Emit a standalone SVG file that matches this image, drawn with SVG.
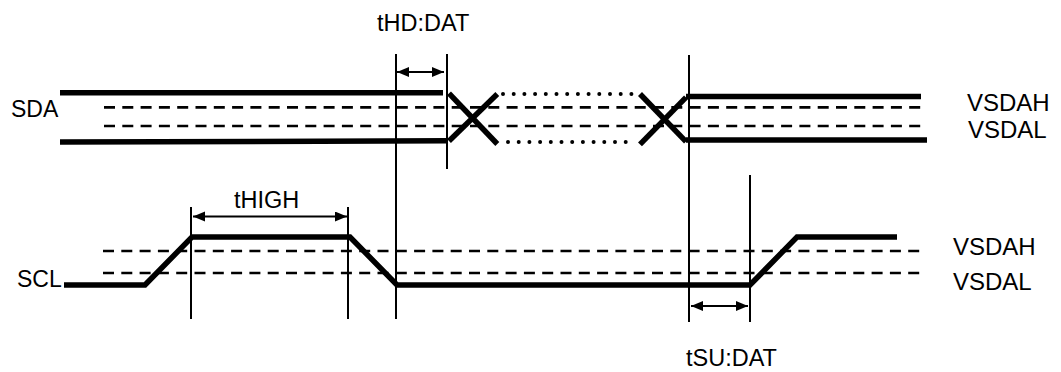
<svg xmlns="http://www.w3.org/2000/svg" width="1061" height="372" viewBox="0 0 1061 372">
  <style>
    .thick { fill: none; stroke: #000; stroke-width: 5.5; stroke-linejoin: miter; }
    .dash { fill: none; stroke: #000; stroke-width: 2.7; stroke-dasharray: 11 7.3; }
    .dot { fill: none; stroke: #000; stroke-width: 4; stroke-linecap: round; stroke-dasharray: 0 10.7; }
    .thin { fill: none; stroke: #000; stroke-width: 2; }
    .arr { fill: none; stroke: #000; stroke-width: 2; marker-start: url(#ah); marker-end: url(#ah); }
    text { font-family: "Liberation Sans", Arial, sans-serif; font-size: 23px; fill: #000; }
    .t { font-size: 23.5px; }
    .v { font-size: 24px; }
  </style>
  <defs>
    <marker id="ah" markerUnits="userSpaceOnUse" markerWidth="13" markerHeight="11" refX="12" refY="5" orient="auto-start-reverse">
      <path d="M0,0 L12,5 L0,10 z" fill="#000"/>
    </marker>
  </defs>

  <g id="thresholds">
    <line class="dash" x1="104" y1="107.3" x2="921" y2="107.3"/>
    <line class="dash" x1="104" y1="126" x2="921" y2="126"/>
    <line class="dash" x1="103" y1="251" x2="920" y2="251"/>
    <line class="dash" x1="103" y1="273" x2="920" y2="273"/>
  </g>

  <g id="sda-signal">
    <line class="thick" x1="60" y1="92.8" x2="443" y2="92.8"/>
    <line class="thick" x1="60" y1="142" x2="448" y2="140.8"/>
    <line class="thick" x1="449" y1="93.3" x2="497.3" y2="144"/>
    <line class="thick" x1="449" y1="141" x2="497.3" y2="94"/>
    <line class="dot" x1="503" y1="94" x2="635" y2="94"/>
    <line class="dot" x1="508" y1="142" x2="630" y2="142"/>
    <line class="thick" x1="640" y1="94" x2="686" y2="141.7"/>
    <line class="thick" x1="640" y1="144.3" x2="686" y2="97.3"/>
    <line class="thick" x1="686" y1="96.5" x2="921" y2="96.5"/>
    <line class="thick" x1="686" y1="140" x2="927" y2="140"/>
  </g>

  <g id="scl-signal">
    <polyline class="thick" points="64,285 145,285 192,237 350,237 397,285 750,285 797,237 897,237"/>
  </g>

  <g id="connectors">
    <line class="thin" x1="396" y1="54" x2="396" y2="319"/>
    <line class="thin" x1="447" y1="54" x2="447" y2="169"/>
    <line class="thin" x1="689" y1="55" x2="689" y2="322"/>
    <line class="thin" x1="191" y1="207" x2="191" y2="319"/>
    <line class="thin" x1="348" y1="207" x2="348" y2="319"/>
    <line class="thin" x1="750" y1="175" x2="750" y2="322"/>
    <line class="arr" x1="397" y1="72" x2="444" y2="72"/>
    <line class="arr" x1="193" y1="216.5" x2="347" y2="216.5"/>
    <line class="arr" x1="691" y1="306" x2="748" y2="306"/>
  </g>

  <g id="labels">
    <text class="t" x="377" y="31">tHD:DAT</text>
    <text x="11" y="117">SDA</text>
    <text x="17" y="287">SCL</text>
    <text class="t" x="234" y="208">tHIGH</text>
    <text class="v" x="967" y="111">VSDAH</text>
    <text class="v" x="968" y="138">VSDAL</text>
    <text class="v" x="953" y="255">VSDAH</text>
    <text class="v" x="953" y="290">VSDAL</text>
    <text class="t" x="686" y="366">tSU:DAT</text>
  </g>
</svg>
